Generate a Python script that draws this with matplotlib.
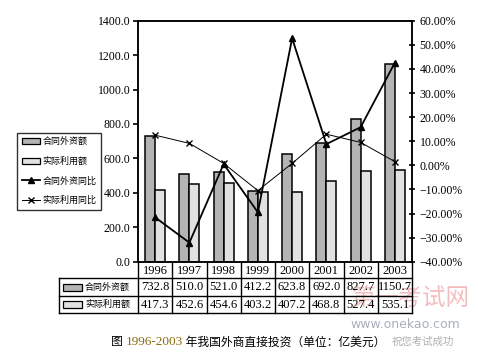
import matplotlib
matplotlib.use("Agg")
import matplotlib.pyplot as plt
from matplotlib.lines import Line2D
from matplotlib.patches import Patch, Rectangle
from matplotlib.ticker import FuncFormatter, MultipleLocator
import matplotlib.transforms as mtransforms

# data
years = ["1996", "1997", "1998", "1999", "2000", "2001", "2002", "2003"]
contract = [732.8, 510.0, 521.0, 412.2, 623.8, 692.0, 827.7, 1150.7]   # 合同外资额
actual = [417.3, 452.6, 454.6, 403.2, 407.2, 468.8, 527.4, 535.1]      # 实际利用额
contract_yoy = [-21.6, -32.1, 0.5, -19.5, 52.7, 8.8, 15.8, 42.6]       # 合同外资同比 %
actual_yoy = [12.5, 9.1, 0.8, -10.5, 0.8, 12.9, 9.5, 1.5]              # 实际利用同比 %
series_names = ["合同外资额", "实际利用额", "合同外资同比", "实际利用同比"]
caption = ["图 ", "1996-2003", " 年我国外商直接投资（单位：亿美元）"]

W, H = 478, 356
cjk = ["Noto Sans CJK SC", "DejaVu Sans"]
serif = ["Liberation Serif", "DejaVu Serif"]
GRAY = "#b4b4b4"
LIGHT = "#e2e2e2"

def fx(px):
    return px / W

def fy(py):
    return 1 - py / H

fig = plt.figure(figsize=(W / 100, H / 100), dpi=100)
ax = fig.add_axes([fx(138), fy(261.7), fx(412) - fx(138), fy(20.7) - fy(261.7)])
ax2 = ax.twinx()

x = list(range(len(years)))
bw = 0.29
ax.bar([i - bw / 2 for i in x], contract, bw, color=GRAY, edgecolor="black", linewidth=1.1, zorder=2)
ax.bar([i + bw / 2 for i in x], actual, bw, color=LIGHT, edgecolor="black", linewidth=1.1, zorder=2)
ax.set_xlim(-0.5, len(years) - 0.5)
ax.set_ylim(0, 1400)
ax.yaxis.set_major_locator(MultipleLocator(200))
ax.yaxis.set_major_formatter(FuncFormatter(lambda v, p: "%.1f" % v))
ax.set_xticks([])

ax2.plot(x, contract_yoy, color="black", linewidth=1.3, marker="^", markersize=5, zorder=3)
ax2.plot(x, actual_yoy, color="black", linewidth=0.7, marker="x", markersize=4, zorder=3)
ax2.set_ylim(-40, 60)
ax2.yaxis.set_major_locator(MultipleLocator(10))
ax2.yaxis.set_major_formatter(FuncFormatter(lambda v, p: ("%.2f%%" % v).replace("-", "\u2212")))

for a in (ax, ax2):
    for s in a.spines.values():
        s.set_linewidth(1.1)
    for lab in a.get_yticklabels():
        lab.set_family(serif)
        lab.set_fontsize(8.5)
ax.tick_params(axis="y", direction="out", length=3.5, width=1.2, pad=2)
ax2.tick_params(axis="y", direction="inout", length=5, width=1.2, pad=3)

# data table under the axis
tr = mtransforms.blended_transform_factory(ax.transData, fig.transFigure)
tf = fig.transFigure
row_y = [261.7, 278.3, 296, 312.7]
lw = 1.0
# horizontal lines
for ry in row_y[1:]:
    fig.add_artist(Line2D([fx(59), fx(412)], [fy(ry)] * 2, color="black", lw=lw, transform=tf))
fig.add_artist(Line2D([fx(59), fx(59)], [fy(row_y[1]), fy(row_y[3])], color="black", lw=lw, transform=tf))
for k in range(len(years) + 1):
    xb = k - 0.5
    fig.add_artist(Line2D([xb, xb], [fy(row_y[0]), fy(row_y[3])], color="black", lw=lw, transform=tr))

for i, yr in enumerate(years):
    fig.text(i, fy(270.5), yr, transform=tr, ha="center", va="center", family=serif, fontsize=9)
    fig.text(i, fy(287.5), "%.1f" % contract[i], transform=tr, ha="center", va="center", family=serif, fontsize=9)
    fig.text(i, fy(304.5), "%.1f" % actual[i], transform=tr, ha="center", va="center", family=serif, fontsize=9)

# row headers with swatches
for r, (col, name) in enumerate([(GRAY, series_names[0]), (LIGHT, series_names[1])]):
    yc = (row_y[r + 1] + row_y[r + 2]) / 2
    fig.add_artist(Rectangle((fx(63), fy(yc + 3.5)), fx(19), fy(yc - 3.5) - fy(yc + 3.5),
                             facecolor=col, edgecolor="black", lw=0.9, transform=tf))
    fig.text(fx(85), fy(yc), name, ha="left", va="center", family=cjk, fontsize=6.5)

# legend
handles = [
    Patch(facecolor=GRAY, edgecolor="black", linewidth=0.9),
    Patch(facecolor=LIGHT, edgecolor="black", linewidth=0.9),
    Line2D([], [], color="black", lw=1.3, marker="^", markersize=5),
    Line2D([], [], color="black", lw=0.7, marker="x", markersize=4),
]
leg = fig.legend(handles, series_names, loc="upper left", bbox_to_anchor=(fx(17), fy(132.7)),
                 bbox_transform=tf, prop={"family": cjk, "size": 6.5}, frameon=True, fancybox=False,
                 edgecolor="black", handlelength=2.0, handletextpad=0.35, borderpad=0.5,
                 labelspacing=1.15, borderaxespad=0)
leg.get_frame().set_linewidth(1.0)

# watermarks
fig.text(fx(352), fy(298), "第一考试网", family=cjk, fontsize=17, color="#e06060", alpha=0.4,
         ha="left", va="center", zorder=0.5)
fig.text(fx(350), fy(325), "www.onekao.com", family=["DejaVu Sans"], fontsize=9, color="#a8b0bc",
         ha="left", va="center")
fig.text(fx(392), fy(342), "祝您考试成功", family=cjk, fontsize=7.5, color="#b0b0b0",
         ha="left", va="center")

# caption in three pieces, second one coloured
fig.canvas.draw()
renderer = fig.canvas.get_renderer()
xpos = fx(111)
cols = ["black", "#8a6a10", "black"]
fams = [cjk, serif, cjk]
for part, c, fam in zip(caption, cols, fams):
    t = fig.text(xpos, fy(342), part, family=fam, fontsize=8.5 if fam is cjk else 9.5, color=c,
                 ha="left", va="center")
    bb = t.get_window_extent(renderer)
    xpos += bb.width / W

fig.savefig("out.png", dpi=100)
